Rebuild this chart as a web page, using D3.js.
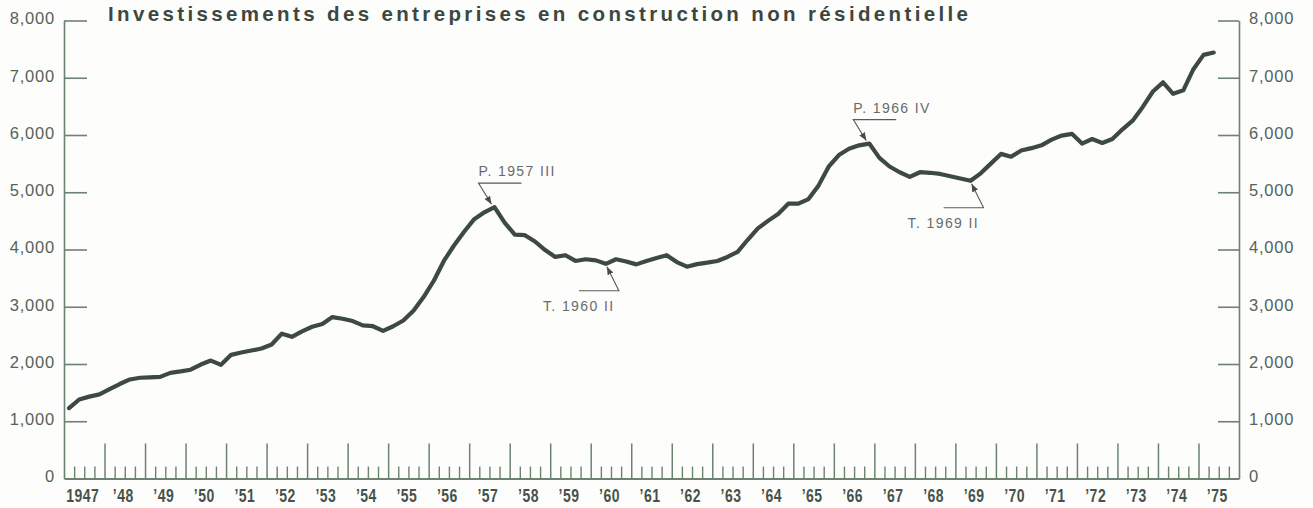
<!DOCTYPE html>
<html>
<head>
<meta charset="utf-8">
<script src="https://cdn.jsdelivr.net/npm/d3@7"></script>
<style>
  body { margin: 0; background: #fdfdfc; }
  svg { display: block; }
</style>
</head>
<body>
<div id="chart"></div>
<script>
// chart data: quarterly values, 1947 Q1 .. 1975 Q2
const FIRST_YEAR = 1947;
const LAST_YEAR = 1975;
const values = [
  1230, 1380, 1430, 1470, // 1947
  1560, 1650, 1730, 1760, // 1948
  1766, 1775, 1845, 1870, // 1949
  1900, 1990, 2060, 1985, // 1950
  2160, 2200, 2235, 2270, // 1951
  2340, 2530, 2475, 2570, // 1952
  2650, 2700, 2820, 2790, // 1953
  2750, 2675, 2660, 2580, // 1954
  2660, 2760, 2930, 3170, // 1955
  3450, 3800, 4070, 4310, // 1956
  4530, 4650, 4740, 4470, // 1957
  4260, 4250, 4140, 3990, // 1958
  3870, 3900, 3800, 3830, // 1959
  3810, 3750, 3830, 3790, // 1960
  3740, 3800, 3850, 3900, // 1961
  3780, 3700, 3745, 3770, // 1962
  3800, 3870, 3960, 4170, // 1963
  4370, 4500, 4620, 4800, // 1964
  4800, 4880, 5120, 5450, // 1965
  5650, 5760, 5820, 5850, // 1966
  5600, 5450, 5350, 5270, // 1967
  5350, 5340, 5320, 5280, // 1968
  5240, 5200, 5330, 5500, // 1969
  5670, 5620, 5730, 5770, // 1970
  5820, 5920, 5990, 6020, // 1971
  5850, 5930, 5860, 5930, // 1972
  6100, 6250, 6490, 6760, // 1973
  6920, 6720, 6780, 7150, // 1974
  7400, 7440              // 1975
];
const yTicks = [0, 1000, 2000, 3000, 4000, 5000, 6000, 7000, 8000];
const yearLabels = ["1947", "’48", "’49", "’50", "’51", "’52", "’53", "’54", "’55",
  "’56", "’57", "’58", "’59", "’60", "’61", "’62", "’63", "’64", "’65", "’66",
  "’67", "’68", "’69", "’70", "’71", "’72", "’73", "’74", "’75"];
const title = "Investissements des entreprises en construction non résidentielle";
// turning points: label, year, quarter
const turnLabels = ["P. 1957 III", "T. 1960 II", "P. 1966 IV", "T. 1969 II"];
const turnYears = [1957, 1960, 1966, 1969];
const turnQuarters = [3, 2, 4, 2];

const WIDTH = 1313, HEIGHT = 508;
const LEFT = 64, RIGHT = 1239, TOP = 20.5, BOTTOM = 478.5;
const INK = "#3d4a3f", AXIS = "#6c8370", LABEL = "#55635a";

const svg = d3.select("#chart").append("svg")
  .attr("width", WIDTH).attr("height", HEIGHT);

const x = d3.scaleLinear().domain([FIRST_YEAR, LAST_YEAR + 1]).range([LEFT, RIGHT]);
const y = d3.scaleLinear().domain([0, 8000]).range([BOTTOM, TOP]);

const points = values.map((v, i) => ({ t: FIRST_YEAR + i / 4 + 0.125, v }));

// left axis
svg.append("g")
  .attr("transform", `translate(${LEFT},0)`)
  .call(d3.axisLeft(y).tickValues(yTicks).tickFormat(d3.format(","))
    .tickSizeInner(-23).tickSizeOuter(0).tickPadding(9))
  .call(styleY);

// right axis
svg.append("g")
  .attr("transform", `translate(${RIGHT},0)`)
  .call(d3.axisRight(y).tickValues(yTicks).tickFormat(d3.format(","))
    .tickSizeInner(-21).tickSizeOuter(0).tickPadding(10))
  .call(styleY);

function styleY(g) {
  g.select(".domain").attr("stroke", AXIS).attr("stroke-width", 1.6);
  g.selectAll(".tick line").attr("stroke", AXIS).attr("stroke-width", 1.6)
    .filter((d) => d === 0).remove();
  g.selectAll(".tick text")
    .attr("fill", LABEL)
    .attr("font-family", "'Liberation Sans', Arial, sans-serif")
    .attr("font-size", 16.5)
    .attr("letter-spacing", 0.8)
    .attr("dy", "0.2em");
}

// bottom axis: quarter ticks, year ticks, year labels
const quarterTicks = d3.range(FIRST_YEAR * 4 + 1, (LAST_YEAR + 1) * 4)
  .filter((q) => q % 4 !== 0).map((q) => q / 4);
const yearTicks = d3.range(FIRST_YEAR + 1, LAST_YEAR + 1);

svg.append("g")
  .attr("transform", `translate(0,${BOTTOM})`)
  .call(d3.axisBottom(x).tickValues(quarterTicks).tickSizeInner(-12)
    .tickSizeOuter(0).tickFormat(""))
  .call((g) => {
    g.select(".domain").attr("stroke", AXIS).attr("stroke-width", 1.8);
    g.selectAll(".tick line").attr("stroke", AXIS).attr("stroke-width", 1.4);
  });

svg.append("g")
  .attr("transform", `translate(0,${BOTTOM})`)
  .call(d3.axisBottom(x).tickValues(yearTicks).tickSizeInner(-35)
    .tickSizeOuter(0).tickFormat(""))
  .call((g) => {
    g.select(".domain").remove();
    g.selectAll(".tick line").attr("stroke", AXIS).attr("stroke-width", 1.5);
  });

svg.append("g")
  .attr("transform", `translate(-2,${BOTTOM})`)
  .call(d3.axisBottom(x).tickValues(yearLabels.map((d, i) => FIRST_YEAR + i + 0.5))
    .tickSize(0).tickPadding(11).tickFormat((d, i) => yearLabels[i]))
  .call((g) => {
    g.select(".domain").remove();
    // condensed look: squeeze the bold face horizontally
    g.selectAll(".tick text")
      .attr("fill", "#47534a")
      .attr("font-family", "'Liberation Sans', Arial, sans-serif")
      .attr("font-weight", "bold")
      .attr("font-size", 17.5)
      .attr("letter-spacing", 0.6)
      .attr("transform", "scale(0.8,1)");
  });

// title
svg.append("text")
  .attr("x", 108).attr("y", 21)
  .attr("fill", "#3c483f")
  .attr("font-family", "'Liberation Sans', Arial, sans-serif")
  .attr("font-weight", "bold")
  .attr("font-size", 20.5)
  .attr("textLength", 860)
  .attr("lengthAdjust", "spacing")
  .text(title);

// the series
svg.append("path")
  .datum(points)
  .attr("fill", "none")
  .attr("stroke", INK)
  .attr("stroke-width", 4.2)
  .attr("stroke-linejoin", "round")
  .attr("stroke-linecap", "round")
  .attr("d", d3.line((d) => x(d.t), (d) => y(d.v)));

// turning point annotations
svg.append("defs").append("marker")
  .attr("id", "arrow")
  .attr("viewBox", "0 0 10 10")
  .attr("refX", 10).attr("refY", 5)
  .attr("markerWidth", 8).attr("markerHeight", 8)
  .attr("markerUnits", "userSpaceOnUse")
  .attr("orient", "auto")
  .append("path")
  .attr("d", "M0,1 L10,5 L0,9 Z")
  .attr("fill", "#4a4a4a");

const turns = turnLabels.map((label, i) => {
  const t = turnYears[i] + (turnQuarters[i] - 1) / 4 + 0.125;
  const v = values[(turnYears[i] - FIRST_YEAR) * 4 + turnQuarters[i] - 1];
  return { label, px: x(t), py: y(v), peak: label[0] === "P" };
});

const ann = svg.append("g").attr("class", "annotations");
turns.forEach((d) => {
  // peaks: leader above going left, troughs: leader below going right
  const tip = d.peak ? [d.px - 3, d.py - 3] : [d.px + 1, d.py + 3];
  const elbow = d.peak ? [d.px - 16, d.py - 24] : [d.px + 13, d.py + 27];
  const end = d.peak ? [d.px + 27, elbow[1]] : [d.px - 27, elbow[1]];
  ann.append("path")
    .attr("d", d3.line()([end, elbow, tip]))
    .attr("fill", "none")
    .attr("stroke", "#5a5a5a")
    .attr("stroke-width", 1.1)
    .attr("marker-end", "url(#arrow)");
  ann.append("text")
    .attr("x", d.peak ? elbow[0] : end[0] - 36)
    .attr("y", d.peak ? elbow[1] - 7 : elbow[1] + 20)
    .attr("fill", "#6a6a6a")
    .attr("font-family", "'Liberation Sans', Arial, sans-serif")
    .attr("font-size", 14)
    .attr("letter-spacing", 1.4)
    .text(d.label);
});
</script>
</body>
</html>
